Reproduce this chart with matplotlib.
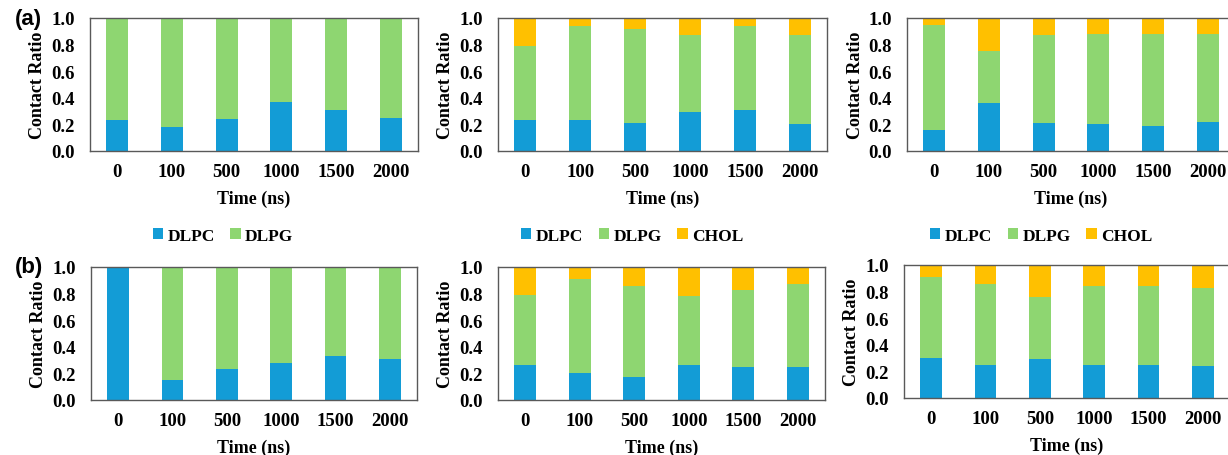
import matplotlib
matplotlib.use('Agg')
import matplotlib.pyplot as plt
from matplotlib.patches import Patch

plt.rcParams['font.family'] = 'Liberation Serif'
plt.rcParams['font.weight'] = 'bold'

TIMES = ['0', '100', '500', '1000', '1500', '2000']

# contact ratios, row (a)
a1_dlpc = [0.23, 0.18, 0.24, 0.37, 0.31, 0.25]
a1_dlpg = [0.77, 0.82, 0.76, 0.63, 0.69, 0.75]

a2_dlpc = [0.23, 0.23, 0.21, 0.29, 0.31, 0.20]
a2_dlpg = [0.56, 0.71, 0.71, 0.58, 0.63, 0.67]
a2_chol = [0.21, 0.06, 0.08, 0.13, 0.06, 0.13]

a3_dlpc = [0.16, 0.36, 0.21, 0.20, 0.19, 0.22]
a3_dlpg = [0.79, 0.39, 0.66, 0.68, 0.69, 0.66]
a3_chol = [0.05, 0.25, 0.13, 0.12, 0.12, 0.12]

# contact ratios, row (b)
b1_dlpc = [1.00, 0.15, 0.23, 0.28, 0.33, 0.31]
b1_dlpg = [0.00, 0.85, 0.77, 0.72, 0.67, 0.69]

b2_dlpc = [0.26, 0.20, 0.17, 0.26, 0.25, 0.25]
b2_dlpg = [0.53, 0.71, 0.69, 0.52, 0.58, 0.62]
b2_chol = [0.21, 0.09, 0.14, 0.22, 0.17, 0.13]

b3_dlpc = [0.30, 0.25, 0.29, 0.25, 0.25, 0.24]
b3_dlpg = [0.61, 0.61, 0.47, 0.59, 0.59, 0.59]
b3_chol = [0.09, 0.14, 0.24, 0.16, 0.16, 0.17]

COLORS = {'DLPC': '#139CD6', 'DLPG': '#8ED671', 'CHOL': '#FFC000'}
W, H = 1228, 456
FS_TICK = 13.5
FS_LABEL = 13


def px_axes(fig, x0, y0, x1, y1):
    return fig.add_axes([x0 / W, 1 - y1 / H, (x1 - x0) / W, (y1 - y0) / H])


def draw_panel(ax, series, wpx, hpx):
    x = range(len(TIMES))
    bottom = [0.0] * len(TIMES)
    for name, vals in series:
        ax.bar(x, vals, width=0.4, bottom=bottom, color=COLORS[name],
               linewidth=0)
        bottom = [b + v for b, v in zip(bottom, vals)]
    ax.set_xlim(-0.5, len(TIMES) - 0.5)
    ax.set_ylim(0, 1.0)
    ax.set_yticks([0, 0.2, 0.4, 0.6, 0.8, 1.0])
    ax.set_yticklabels(['0.0', '0.2', '0.4', '0.6', '0.8', '1.0'])
    ax.set_xticks(list(x))
    ax.set_xticklabels(TIMES)
    ax.tick_params(length=0, labelsize=FS_TICK)
    ax.tick_params(axis='y', pad=11)
    ax.tick_params(axis='x', pad=9)
    for s in ax.spines.values():
        s.set_color('#595959')
        s.set_linewidth(1.0)
    ax.set_ylabel('Contact Ratio', fontsize=FS_LABEL, fontweight='bold')
    ax.set_xlabel('Time (ns)', fontsize=FS_LABEL, fontweight='bold')
    ax.yaxis.set_label_coords(-52 / wpx, 0.5)
    ax.xaxis.set_label_coords(0.5, -47 / hpx)
    ax.xaxis.label.set_va('center')
    ax.yaxis.label.set_va('center')


def panel(fig, box, series):
    x0, y0, x1, y1 = box
    ax = px_axes(fig, x0, y0, x1, y1)
    draw_panel(ax, series, x1 - x0, y1 - y0)
    return ax


def add_legend(fig, names, cx, cy):
    handles = [Patch(facecolor=COLORS[n], edgecolor='none') for n in names]
    fig.legend(handles, names, loc='center', bbox_to_anchor=(cx / W, 1 - cy / H),
               ncol=len(names), frameon=False, handlelength=0.6,
               handleheight=0.6, handletextpad=0.25, columnspacing=0.9,
               prop={'family': 'Liberation Serif', 'weight': 'bold',
                     'size': 12.5})


fig = plt.figure(figsize=(W / 100, H / 100), dpi=100)

panel(fig, (90, 19, 418, 152),
      [('DLPC', a1_dlpc), ('DLPG', a1_dlpg)])
panel(fig, (498, 19, 827, 152),
      [('DLPC', a2_dlpc), ('DLPG', a2_dlpg), ('CHOL', a2_chol)])
panel(fig, (907, 19, 1235, 152),
      [('DLPC', a3_dlpc), ('DLPG', a3_dlpg), ('CHOL', a3_chol)])

panel(fig, (91, 268, 417, 401),
      [('DLPC', b1_dlpc), ('DLPG', b1_dlpg)])
panel(fig, (498, 268, 825, 401),
      [('DLPC', b2_dlpc), ('DLPG', b2_dlpg), ('CHOL', b2_chol)])
panel(fig, (904, 266, 1230, 399),
      [('DLPC', b3_dlpc), ('DLPG', b3_dlpg), ('CHOL', b3_chol)])

add_legend(fig, ['DLPC', 'DLPG'], 223, 237)
add_legend(fig, ['DLPC', 'DLPG', 'CHOL'], 632, 237)
add_legend(fig, ['DLPC', 'DLPG', 'CHOL'], 1041, 237)

fig.text(15 / W, 1 - 19 / H, '(a)', family='Liberation Sans', weight='bold',
         fontsize=16, va='center', ha='left')
fig.text(15 / W, 1 - 268 / H, '(b)', family='Liberation Sans', weight='bold',
         fontsize=16, va='center', ha='left')

fig.savefig('out.png', dpi=100)
